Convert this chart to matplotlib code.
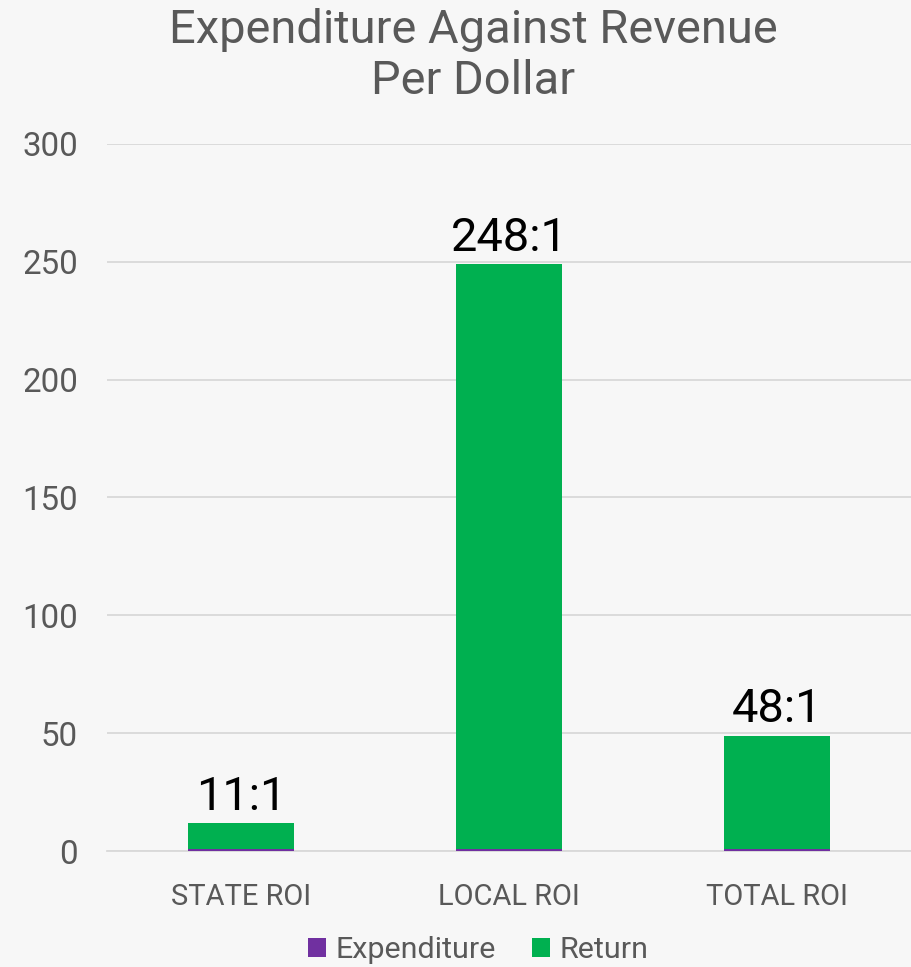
"""
Stacked column chart: expenditure against revenue per dollar (ROI).
"""

import matplotlib.pyplot as plt
import numpy as np

categories = ["STATE ROI", "LOCAL ROI", "TOTAL ROI"]
expenditure = [1, 1, 1]
returns = [11, 248, 48]
ratio_labels = ["11:1", "248:1", "48:1"]

TEXT_GRAY = "#595959"
GRID = "#d9d9d9"
BG = "#f7f7f7"
PURPLE = "#7030a0"
GREEN = "#00b050"

plt.rcParams["font.family"] = ["Roboto", "DejaVu Sans"]


def px(size):
    # pixel height of em -> points at dpi 100
    return size * 72 / 100


def main():
    fig = plt.figure(figsize=(9.12, 9.67), dpi=100, facecolor=BG)
    ax = fig.add_axes([107 / 912, 116 / 967, 804 / 912, 707 / 967])
    ax.set_facecolor(BG)

    x = np.arange(len(categories))
    width = 0.396
    ax.bar(x, expenditure, width, color=PURPLE, label="Expenditure", zorder=3)
    ax.bar(x, returns, width, bottom=expenditure, color=GREEN, label="Return", zorder=3)

    # Ratio labels above each column
    for xi, e, r, lab in zip(x, expenditure, returns, ratio_labels):
        ax.annotate(lab, (xi, e + r), xytext=(0, 3), textcoords="offset points",
                    ha="center", va="bottom", fontsize=px(47), color="black")

    ax.set_xlim(-0.5, len(categories) - 0.5)
    ax.set_ylim(0, 300)
    ax.set_yticks(range(0, 301, 50))
    ax.set_xticks(x, categories)
    ax.tick_params(axis="y", length=0, pad=px(29), labelsize=px(33), labelcolor=TEXT_GRAY)
    ax.tick_params(axis="x", length=0, pad=px(32), labelsize=px(29), labelcolor=TEXT_GRAY)
    ax.grid(axis="y", color=GRID, linewidth=1.3, zorder=0)
    for side in ["top", "right", "left"]:
        ax.spines[side].set_visible(False)
    ax.spines["bottom"].set_color(GRID)
    ax.spines["bottom"].set_linewidth(1.3)

    fig.text(473 / 912, 1 - 56 / 967, "Expenditure Against Revenue\nPer Dollar",
             ha="center", va="center", fontsize=px(47), color=TEXT_GRAY,
             linespacing=1.2)

    fig.legend(loc="center", bbox_to_anchor=(478 / 912, 1 - 950 / 967), ncol=2,
               frameon=False, fontsize=px(30.5), labelcolor=TEXT_GRAY,
               handlelength=0.6, handleheight=0.6, handletextpad=0.3,
               columnspacing=1.2)

    fig.savefig("out.png", dpi=100, facecolor=BG)
    plt.close(fig)


if __name__ == "__main__":
    main()
